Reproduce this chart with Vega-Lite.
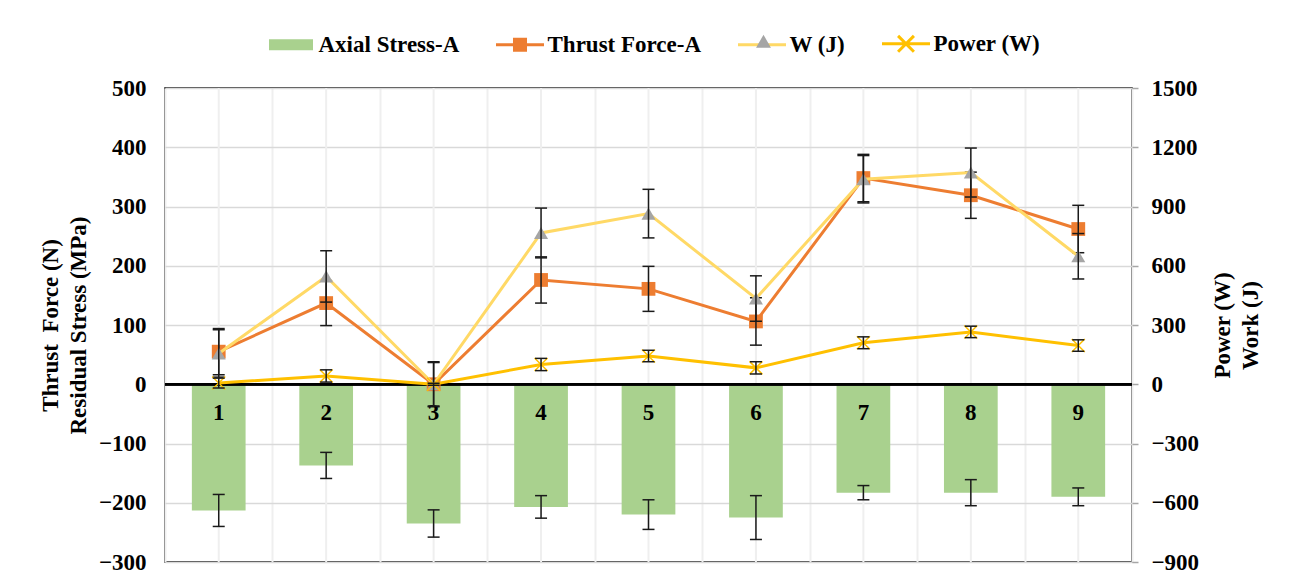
{
  "$schema": "https://vega.github.io/schema/vega-lite/v6.json",
  "width": 967,
  "height": 474,
  "autosize": {"type": "none"},
  "padding": {"left": 165, "top": 88, "right": 160, "bottom": 26},
  "background": "white",
  "config": {
    "view": {"stroke": "#000000", "strokeWidth": 1.5},
    "font": "Liberation Serif",
    "axis": {
      "labelFont": "Liberation Serif", "labelFontSize": 23, "labelFontWeight": "bold", "labelColor": "#000000",
      "titleFont": "Liberation Serif", "titleFontSize": 23, "titleFontWeight": "bold", "titleColor": "#000000"
    }
  },
  "data": {"values": [
    {"run": 1, "stress": -213, "stress_err": 27, "thrust": 55, "thrust_err": 39, "work": 156, "work_err": 120, "power": 6, "power_err": 25},
    {"run": 2, "stress": -137, "stress_err": 22, "thrust": 137, "thrust_err": 38, "work": 546, "work_err": 130, "power": 42, "power_err": 31},
    {"run": 3, "stress": -235, "stress_err": 23, "thrust": 0, "thrust_err": 38, "work": 0, "work_err": 110, "power": 0, "power_err": 5},
    {"run": 4, "stress": -207, "stress_err": 19, "thrust": 176, "thrust_err": 39, "work": 766, "work_err": 126, "power": 100, "power_err": 31},
    {"run": 5, "stress": -220, "stress_err": 25, "thrust": 161, "thrust_err": 38, "work": 864, "work_err": 123, "power": 143, "power_err": 29},
    {"run": 6, "stress": -225, "stress_err": 37, "thrust": 106, "thrust_err": 40, "work": 434, "work_err": 115, "power": 83, "power_err": 31},
    {"run": 7, "stress": -183, "stress_err": 12, "thrust": 348, "thrust_err": 40, "work": 1038, "work_err": 120, "power": 210, "power_err": 30},
    {"run": 8, "stress": -183, "stress_err": 22, "thrust": 319, "thrust_err": 39, "work": 1072, "work_err": 124, "power": 265, "power_err": 29},
    {"run": 9, "stress": -190, "stress_err": 15, "thrust": 262, "thrust_err": 40, "work": 648, "work_err": 115, "power": 196, "power_err": 29}
  ]},
  "resolve": {"scale": {"y": "independent"}},
  "layer": [
    {
      "layer": [
        {
          "mark": {"type": "rule", "color": "#EFEFEF", "strokeWidth": 2},
          "encoding": {
            "x": {"field": "run", "type": "ordinal", "title": null,
              "scale": {"type": "band", "paddingInner": 0, "paddingOuter": 0},
              "axis": {"orient": "bottom", "grid": true, "gridColor": "#EFEFEF", "gridWidth": 2, "tickBand": "extent", "labels": false, "ticks": false, "domain": false, "title": null}}
          }
        },
        {
          "mark": {"type": "bar", "color": "#A9D18E", "width": {"band": 0.5}},
          "encoding": {
            "x": {"field": "run", "type": "ordinal", "title": null},
            "y": {"field": "stress", "type": "quantitative",
              "title": ["Thrust \u00a0Force (N)", "Residual Stress (MPa)"],
              "scale": {"domain": [-300, 500], "nice": false, "zero": false},
              "axis": {"orient": "left", "values": [-300, -200, -100, 0, 100, 200, 300, 400, 500], "format": "d",
                "grid": true, "gridColor": "#D9D9D9", "gridWidth": 1.5, "domain": false, "ticks": false,
                "labelPadding": 19,
                "title": ["Thrust \u00a0Force (N)", "Residual Stress (MPa)"],
                "titleAngle": 270, "titleBaseline": "bottom", "titleLineHeight": 28, "titlePadding": 8}}
          }
        },
        {
          "mark": {"type": "errorbar", "color": "#1A1A1A", "ticks": {"size": 12, "thickness": 1.5, "opacity": 1}, "rule": {"strokeWidth": 1.5}},
          "encoding": {
            "x": {"field": "run", "type": "ordinal", "title": null},
            "y": {"field": "stress", "type": "quantitative", "title": ["Thrust \u00a0Force (N)", "Residual Stress (MPa)"]},
            "yError": {"field": "stress_err"}
          }
        },
        {
          "mark": {"type": "rule", "color": "#000000", "strokeWidth": 2},
          "encoding": {"y": {"datum": 0, "type": "quantitative", "title": ["Thrust \u00a0Force (N)", "Residual Stress (MPa)"]}}
        },
        {
          "mark": {"type": "line", "color": "#ED7D31", "strokeWidth": 3},
          "encoding": {
            "x": {"field": "run", "type": "ordinal", "title": null},
            "y": {"field": "thrust", "type": "quantitative", "title": ["Thrust \u00a0Force (N)", "Residual Stress (MPa)"]}
          }
        },
        {
          "mark": {"type": "point", "shape": "square", "filled": true, "size": 190, "color": "#ED7D31", "opacity": 1},
          "encoding": {
            "x": {"field": "run", "type": "ordinal", "title": null},
            "y": {"field": "thrust", "type": "quantitative", "title": ["Thrust \u00a0Force (N)", "Residual Stress (MPa)"]}
          }
        },
        {
          "mark": {"type": "errorbar", "color": "#1A1A1A", "ticks": {"size": 12, "thickness": 1.5, "opacity": 1}, "rule": {"strokeWidth": 1.5}},
          "encoding": {
            "x": {"field": "run", "type": "ordinal", "title": null},
            "y": {"field": "thrust", "type": "quantitative", "title": ["Thrust \u00a0Force (N)", "Residual Stress (MPa)"]},
            "yError": {"field": "thrust_err"}
          }
        },
        {
          "mark": {"type": "text", "dy": 29, "fontSize": 23, "fontWeight": "bold", "font": "Liberation Serif", "color": "#000000"},
          "encoding": {
            "x": {"field": "run", "type": "ordinal", "title": null},
            "y": {"datum": 0, "type": "quantitative", "title": ["Thrust \u00a0Force (N)", "Residual Stress (MPa)"]},
            "text": {"field": "run", "type": "ordinal"}
          }
        },
        {
          "transform": [{"filter": "false"}],
          "mark": {"type": "point", "filled": false, "opacity": 1, "strokeWidth": 3},
          "encoding": {
            "color": {"field": "series", "type": "nominal",
              "scale": {"domain": ["Axial Stress-A", "Thrust Force-A", "W (J)", "Power (W)"], "range": ["#A9D18E", "#ED7D31", "#FFD966", "#FFC000"]},
              "legend": {"orient": "none", "legendX": 100.5, "legendY": -70, "direction": "horizontal", "title": null,
                "labelFont": "Liberation Serif", "labelFontSize": 23, "labelFontWeight": "bold", "labelColor": "#000000",
                "labelOffset": 2, "labelLimit": 400, "columnPadding": 30, "symbolSize": 2304, "symbolStrokeWidth": 3, "padding": 0, "zindex": 1,
                "encode": {"symbols": {"update": {
                  "shape": {"signal": "scale('shape', datum.value)"},
                  "stroke": {"signal": "scale('color', datum.value)"},
                  "strokeWidth": {"value": 3},
                  "opacity": {"value": 1}}}}}},
            "shape": {"field": "series", "type": "nominal",
              "scale": {"domain": ["Axial Stress-A", "Thrust Force-A", "W (J)", "Power (W)"],
                "range": [
                  "M-0.917,-0.167H0.917M-0.917,-0.083H0.917M-0.917,0H0.917M-0.917,0.083H0.917M-0.917,0.167H0.917",
                  "M-1,0H1M-0.23,-0.23H0.23V0.23H-0.23ZM-0.23,-0.115H0.23M-0.23,0.115H0.23",
                  "M-1,0H1",
                  "M-1,0H1M-0.33,-0.33L0.33,0.33M-0.33,0.33L0.33,-0.33"]},
              "legend": null}
          }
        },
        {
          "transform": [{"filter": "false"}],
          "mark": {"type": "point", "filled": true, "opacity": 1, "strokeWidth": 3},
          "encoding": {
            "fill": {"field": "mk", "type": "nominal",
              "scale": {"domain": ["c"], "range": ["#A5A5A5"]},
              "legend": {"orient": "none", "legendX": 573, "legendY": -70, "direction": "horizontal", "title": null,
                "labelExpr": "''",
                "labelFont": "Liberation Serif", "labelFontSize": 23, "labelFontWeight": "bold", "labelColor": "#000000",
                "labelOffset": 2, "labelLimit": 400, "columnPadding": 30, "symbolSize": 2304, "symbolStrokeWidth": 3, "padding": 0, "zindex": 2,
                "symbolType": "M0,-0.36L0.31,0.18L-0.31,0.18Z",
                "encode": {"symbols": {"update": {
                  "shape": {"value": "M0,-0.36L0.31,0.18L-0.31,0.18Z"},
                  "fill": {"value": "#A5A5A5"},
                  "stroke": {"value": "transparent"},
                  "strokeWidth": {"value": 3},
                  "opacity": {"value": 1}}}}}}
          }
        }
      ]
    },
    {
      "layer": [
        {
          "mark": {"type": "line", "color": "#FFD966", "strokeWidth": 3},
          "encoding": {
            "x": {"field": "run", "type": "ordinal", "title": null},
            "y": {"field": "work", "type": "quantitative",
              "title": ["Power (W)", "Work (J)"],
              "scale": {"domain": [-900, 1500], "nice": false, "zero": false},
              "axis": {"orient": "right", "values": [-900, -600, -300, 0, 300, 600, 900, 1200, 1500], "format": "d",
                "grid": false, "domain": false, "ticks": true, "tickSize": 6, "tickColor": "#A6A6A6", "tickWidth": 1.5,
                "labelPadding": 13,
                "title": ["Power (W)", "Work (J)"],
                "titleAngle": 270, "titleBaseline": "top", "titleLineHeight": 28, "titlePadding": -15}}
          }
        },
        {
          "mark": {"type": "point", "shape": "triangle-up", "filled": true, "size": 196, "color": "#A5A5A5", "opacity": 1},
          "encoding": {
            "x": {"field": "run", "type": "ordinal", "title": null},
            "y": {"field": "work", "type": "quantitative", "title": ["Power (W)", "Work (J)"]}
          }
        },
        {
          "mark": {"type": "errorbar", "color": "#1A1A1A", "ticks": {"size": 12, "thickness": 1.5, "opacity": 1}, "rule": {"strokeWidth": 1.5}},
          "encoding": {
            "x": {"field": "run", "type": "ordinal", "title": null},
            "y": {"field": "work", "type": "quantitative", "title": ["Power (W)", "Work (J)"]},
            "yError": {"field": "work_err"}
          }
        },
        {
          "mark": {"type": "line", "color": "#FFC000", "strokeWidth": 3},
          "encoding": {
            "x": {"field": "run", "type": "ordinal", "title": null},
            "y": {"field": "power", "type": "quantitative", "title": ["Power (W)", "Work (J)"]}
          }
        },
        {
          "mark": {"type": "point", "shape": "M-1,-1L1,1M-1,1L1,-1", "filled": false, "size": 169, "color": "#FFC000", "strokeWidth": 1.5, "opacity": 1},
          "encoding": {
            "x": {"field": "run", "type": "ordinal", "title": null},
            "y": {"field": "power", "type": "quantitative", "title": ["Power (W)", "Work (J)"]}
          }
        },
        {
          "mark": {"type": "errorbar", "color": "#1A1A1A", "ticks": {"size": 12, "thickness": 1.5, "opacity": 1}, "rule": {"strokeWidth": 1.5}},
          "encoding": {
            "x": {"field": "run", "type": "ordinal", "title": null},
            "y": {"field": "power", "type": "quantitative", "title": ["Power (W)", "Work (J)"]},
            "yError": {"field": "power_err"}
          }
        }
      ]
    }
  ]
}
